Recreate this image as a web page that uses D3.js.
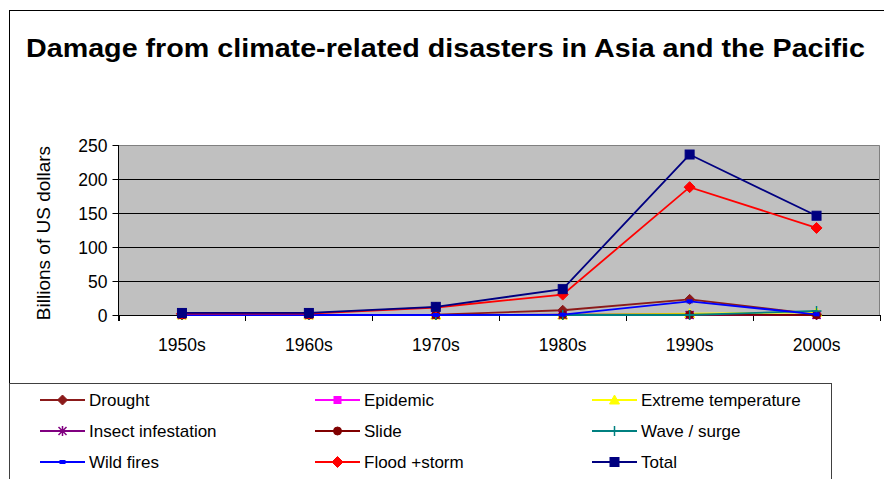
<!DOCTYPE html>
<html>
<head>
<meta charset="utf-8">
<script src="https://cdn.jsdelivr.net/npm/d3@7"></script>
<style>
  html, body { margin: 0; padding: 0; background: #fff; }
  svg { display: block; font-family: Arial, "Liberation Sans", sans-serif; }
</style>
</head>
<body>
<svg id="chart" width="884" height="479"></svg>
<script>
// Decades on the category axis
const categories = ["1950s", "1960s", "1970s", "1980s", "1990s", "2000s"];

// Damage per decade, billions of US dollars
const drought      = [0.3, 0.3, 0.5, 7, 23, 1];
const epidemic     = [0, 0, 0, 0, 0, 0];
const extremeTemp  = [0, 0, 0, 0, 2, 4];
const insect       = [0, 0, 0, 0, 0, 0];
const slide        = [0, 0, 0, 0.5, 0.5, 0];
const waveSurge    = [0, 0, 0, 0, 0, 6];
const wildFires    = [0, 0, 0, 0.5, 20, 1];
const floodStorm   = [2, 2, 11, 30, 188, 128];
const total        = [3, 3, 12, 38, 236, 146];

// Value axis ticks
const yTicks = [0, 50, 100, 150, 200, 250];

const seriesNames = ["Drought", "Epidemic", "Extreme temperature", "Insect infestation",
  "Slide", "Wave / surge", "Wild fires", "Flood +storm", "Total"];
const seriesValues = [drought, epidemic, extremeTemp, insect, slide, waveSurge, wildFires, floodStorm, total];
const seriesColors = ["#8b1a1a", "#ff00ff", "#ffff00", "#800080", "#800000", "#008080", "#0000ff", "#ff0000", "#000080"];
const seriesMarkers = ["diamond", "square", "triangle", "asterisk", "circle", "plus", "dash", "diamondBig", "squareBig"];

const series = seriesNames.map((name, i) => ({
  name, values: seriesValues[i], color: seriesColors[i], marker: seriesMarkers[i]
}));

const svg = d3.select("#chart");

// Outer chart frame
svg.append("rect")
  .attr("x", 9.5).attr("y", 10.5).attr("width", 900).attr("height", 500)
  .attr("fill", "#fff").attr("stroke", "#000").attr("stroke-width", 1);

// Title, set to span its line
svg.append("text")
  .attr("x", 26).attr("y", 57)
  .attr("font-weight", "bold")
  .attr("font-size", 25)
  .attr("fill", "#000")
  .attr("textLength", 839)
  .attr("lengthAdjust", "spacingAndGlyphs")
  .text("Damage from climate-related disasters in Asia and the Pacific");

// Plot area
const plot = { left: 118.5, right: 880, top: 145, bottom: 315 };

const x = d3.scaleBand().domain(categories).range([plot.left, plot.right]);
const y = d3.scaleLinear().domain([0, 250]).range([plot.bottom, plot.top]);

svg.append("rect")
  .attr("x", plot.left).attr("y", plot.top)
  .attr("width", plot.right - plot.left).attr("height", plot.bottom - plot.top)
  .attr("fill", "#c0c0c0");

// Plot border (top and right)
svg.append("path")
  .attr("d", `M${plot.left},${plot.top + 0.5}H${plot.right - 0.5}V${plot.bottom}`)
  .attr("fill", "none").attr("stroke", "#808080").attr("stroke-width", 1);

// Horizontal gridlines
svg.append("g")
  .selectAll("line")
  .data(yTicks.filter(t => t > 0 && t < 250))
  .join("line")
  .attr("x1", plot.left).attr("x2", plot.right - 1)
  .attr("y1", d => Math.round(y(d)) + 0.5).attr("y2", d => Math.round(y(d)) + 0.5)
  .attr("stroke", "#000").attr("stroke-width", 1);

// Value axis
const yAxis = svg.append("g")
  .attr("transform", `translate(${plot.left},0)`)
  .call(d3.axisLeft(y).tickValues(yTicks).tickSize(6).tickSizeOuter(0).tickPadding(5));
yAxis.select(".domain").remove();
yAxis.selectAll(".tick line").attr("stroke", "#000");
yAxis.selectAll(".tick text")
  .attr("font-size", 17.5).attr("font-family", "Arial, 'Liberation Sans', sans-serif")
  .attr("fill", "#000").attr("dy", "0.35em");
svg.append("line")
  .attr("x1", plot.left).attr("x2", plot.left)
  .attr("y1", plot.top).attr("y2", plot.bottom + 6)
  .attr("stroke", "#000");

// Category axis
const xAxis = svg.append("g")
  .attr("transform", `translate(0,${plot.bottom + 0.5})`)
  .call(d3.axisBottom(x).tickSize(0).tickPadding(23));
xAxis.select(".domain").remove();
xAxis.selectAll(".tick text")
  .attr("font-size", 17.5).attr("font-family", "Arial, 'Liberation Sans', sans-serif")
  .attr("fill", "#000");
svg.append("line")
  .attr("x1", plot.left).attr("x2", plot.right)
  .attr("y1", plot.bottom + 0.5).attr("y2", plot.bottom + 0.5)
  .attr("stroke", "#000");
// Tick marks between categories
const boundaries = categories.map(c => x(c)).concat([x(categories[categories.length - 1]) + x.bandwidth()]);
svg.append("g")
  .selectAll("line")
  .data(boundaries)
  .join("line")
  .attr("x1", d => Math.round(d) + 0.5).attr("x2", d => Math.round(d) + 0.5)
  .attr("y1", plot.bottom).attr("y2", plot.bottom + 6)
  .attr("stroke", "#000");

// Value axis title
svg.append("text")
  .attr("transform", `translate(50,233) rotate(-90)`)
  .attr("text-anchor", "middle")
  .attr("font-size", 19)
  .attr("fill", "#000")
  .text("Billions of US dollars");

// Marker drawing
function drawMarker(g, type, color) {
  switch (type) {
    case "diamond":
      g.append("path").attr("d", "M0,-5L5,0L0,5L-5,0Z").attr("fill", color).attr("stroke", color);
      break;
    case "diamondBig":
      g.append("path").attr("d", "M0,-5.5L5.5,0L0,5.5L-5.5,0Z").attr("fill", color).attr("stroke", color);
      break;
    case "square":
      g.append("rect").attr("x", -3.5).attr("y", -3.5).attr("width", 7).attr("height", 7)
        .attr("fill", color).attr("stroke", color);
      break;
    case "squareBig":
      g.append("rect").attr("x", -4.5).attr("y", -4.5).attr("width", 9).attr("height", 9)
        .attr("fill", color).attr("stroke", color);
      break;
    case "triangle":
      g.append("path").attr("d", "M0,-5L5,4L-5,4Z").attr("fill", color).attr("stroke", color);
      break;
    case "circle":
      g.append("circle").attr("r", 4).attr("fill", color).attr("stroke", color);
      break;
    case "asterisk":
      g.append("path").attr("d", "M-4,-4L4,4M4,-4L-4,4M0,-5V5")
        .attr("fill", "none").attr("stroke", color).attr("stroke-width", 1.5);
      break;
    case "plus":
      g.append("path").attr("d", "M-5,0H5M0,-5V5")
        .attr("fill", "none").attr("stroke", color).attr("stroke-width", 1.5);
      break;
    case "dash":
      g.append("rect").attr("x", -3).attr("y", -2).attr("width", 6).attr("height", 4)
        .attr("fill", color);
      break;
  }
}

// Series lines and markers
const cx = c => x(c) + x.bandwidth() / 2;
const line = d3.line().x((d, i) => cx(categories[i])).y(d => y(d));

series.forEach(s => {
  const g = svg.append("g");
  g.append("path")
    .attr("d", line(s.values))
    .attr("fill", "none")
    .attr("stroke", s.color)
    .attr("stroke-width", 1.8);
  s.values.forEach((v, i) => {
    const m = g.append("g").attr("transform", `translate(${cx(categories[i])},${y(v)})`);
    drawMarker(m, s.marker, s.color);
  });
});

// Legend
const legend = svg.append("g");
legend.append("rect")
  .attr("x", 9.5).attr("y", 383.5).attr("width", 822).attr("height", 120)
  .attr("fill", "#fff").attr("stroke", "#404040").attr("stroke-width", 1);

const colX = [40, 315, 592];
const rowY = [400, 431, 462];
series.forEach((s, i) => {
  const lx = colX[i % 3], ly = rowY[Math.floor(i / 3)];
  const item = legend.append("g").attr("transform", `translate(${lx},${ly})`);
  item.append("line").attr("x1", 0).attr("x2", 45).attr("y1", 0).attr("y2", 0)
    .attr("stroke", s.color).attr("stroke-width", 1.8);
  drawMarker(item.append("g").attr("transform", "translate(22.5,0)"), s.marker, s.color);
  item.append("text")
    .attr("x", 49).attr("y", 0).attr("dy", "0.35em")
    .attr("font-size", 17).attr("fill", "#000")
    .text(s.name);
});
</script>
</body>
</html>
